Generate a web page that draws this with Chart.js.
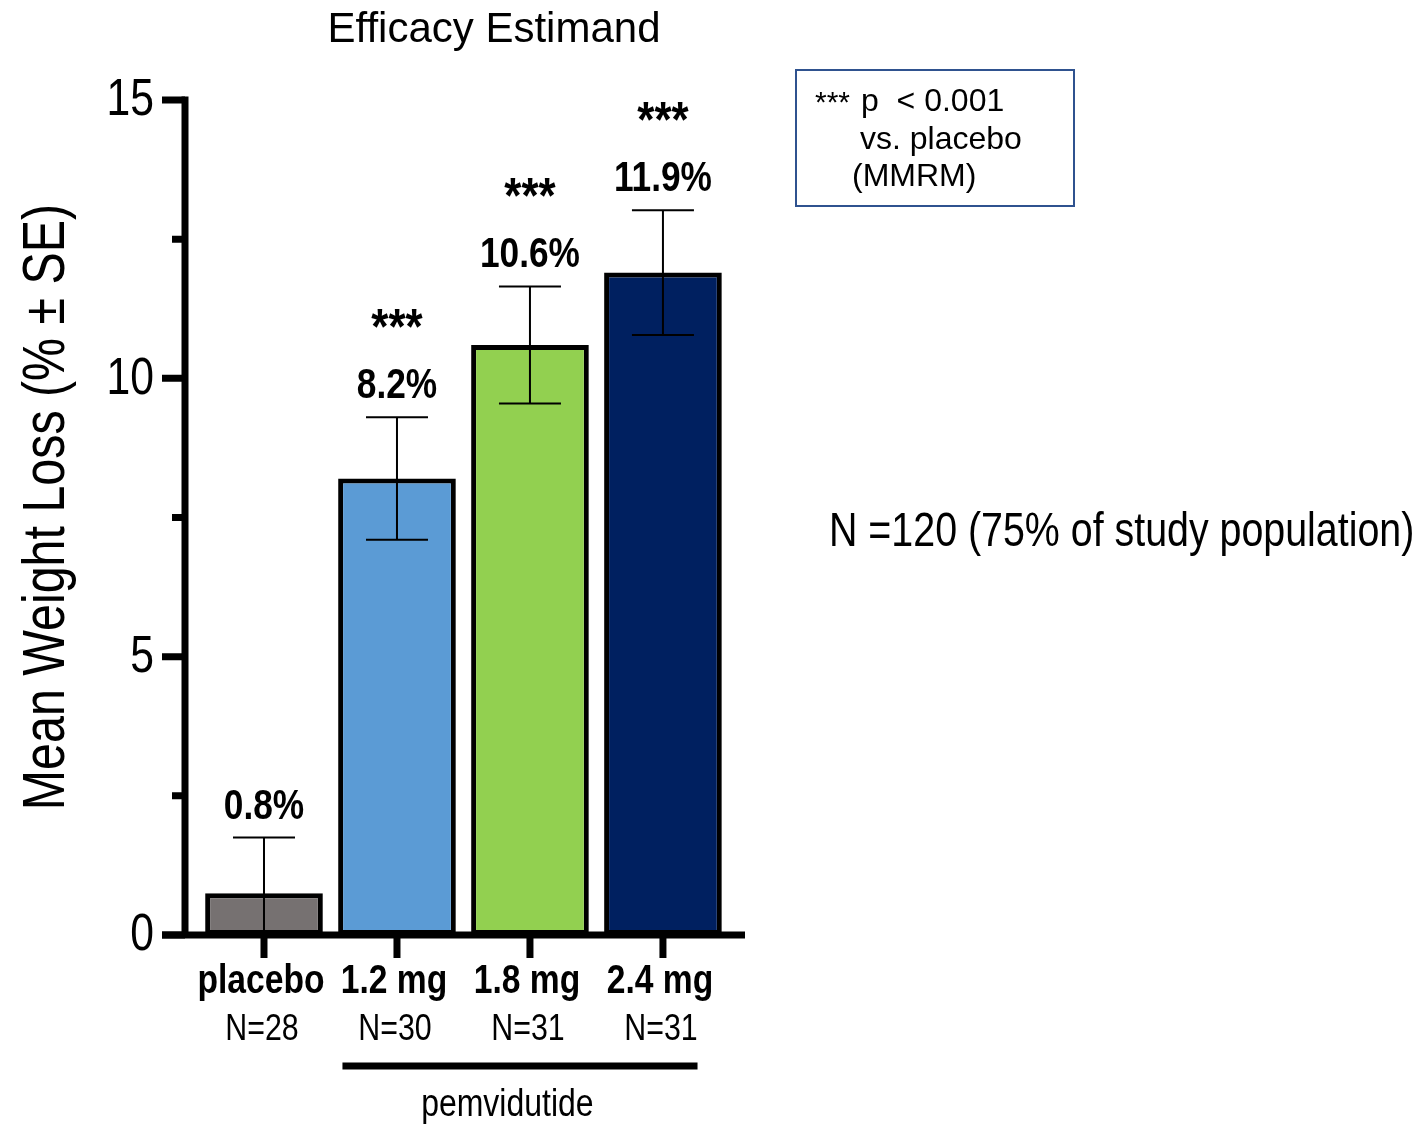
<!DOCTYPE html>
<html>
<head>
<meta charset="utf-8">
<script src="https://cdn.jsdelivr.net/npm/chart.js@4.4.0/dist/chart.umd.min.js"></script>
<style>
  html, body { margin: 0; padding: 0; background: #fff; }
  #wrap { position: relative; width: 1419px; height: 1124px; }
</style>
</head>
<body>
<div id="wrap"><canvas id="weightChart"></canvas></div>
<script>
const doses = ["placebo", "1.2 mg", "1.8 mg", "2.4 mg"];
const groupSizes = ["N=28", "N=30", "N=31", "N=31"];
const meanLoss = [0.75, 8.2, 10.6, 11.9];
const stdErr = [1.0, 1.1, 1.05, 1.12];
const valueLabels = ["0.8%", "8.2%", "10.6%", "11.9%"];
const stars = ["", "***", "***", "***"];
const barColors = ["#767171", "#5b9bd5", "#92d050", "#002060"];
const yTicks = [0, 5, 10, 15];
const yMinorTicks = [2.5, 7.5, 12.5];

const ARIAL = "'Liberation Sans', Arial, sans-serif";
const NARROW = 0.82; // no narrow face installed, so squeeze Liberation Sans

// draw text squeezed horizontally (Arial Narrow look)
function narrowText(ctx, text, x, y, font, align, sx) {
  ctx.save();
  ctx.font = font;
  ctx.textAlign = align || "center";
  ctx.translate(x, y);
  ctx.scale(sx || NARROW, 1);
  ctx.fillText(text, 0, 0);
  ctx.restore();
}

// error bars + value labels on top of the bars
const errorBars = {
  id: "errorBars",
  afterDatasetsDraw(chart) {
    const { ctx, scales: { y } } = chart;
    const meta = chart.getDatasetMeta(0);
    ctx.save();
    ctx.fillStyle = "#000";
    ctx.textBaseline = "alphabetic";
    meta.data.forEach((bar, i) => {
      const cx = bar.x;
      const top = y.getPixelForValue(meanLoss[i] + stdErr[i]);
      const lowVal = meanLoss[i] - stdErr[i];
      const low = y.getPixelForValue(Math.max(0, lowVal));
      ctx.strokeStyle = "#000";
      ctx.lineWidth = 2;
      ctx.beginPath();
      ctx.moveTo(cx, top);
      ctx.lineTo(cx, low);
      ctx.moveTo(cx - 31, top);
      ctx.lineTo(cx + 31, top);
      if (lowVal > 0) {
        ctx.moveTo(cx - 31, low);
        ctx.lineTo(cx + 31, low);
      }
      ctx.stroke();

      narrowText(ctx, valueLabels[i], cx, top - 19, "bold 43px " + ARIAL);
      if (stars[i]) {
        narrowText(ctx, stars[i], cx, top - 73, "bold 50px " + ARIAL, "center", 0.88);
      }
    });
    ctx.restore();
  }
};

// axis lines, tick marks, labels and annotations
const decorations = {
  id: "decorations",
  afterDraw(chart) {
    const { ctx, chartArea: area, scales: { x, y } } = chart;
    ctx.save();
    ctx.strokeStyle = "#000";
    ctx.fillStyle = "#000";
    ctx.lineWidth = 7;
    ctx.lineCap = "butt";

    // axes
    ctx.beginPath();
    ctx.moveTo(area.left, area.top - 3.5);
    ctx.lineTo(area.left, area.bottom + 3.5);
    ctx.moveTo(area.left - 23, area.bottom);
    ctx.lineTo(area.right, area.bottom);
    ctx.stroke();

    // y ticks
    ctx.beginPath();
    yTicks.forEach(v => {
      const py = y.getPixelForValue(v);
      ctx.moveTo(area.left - 23, py);
      ctx.lineTo(area.left, py);
    });
    yMinorTicks.forEach(v => {
      const py = y.getPixelForValue(v);
      ctx.moveTo(area.left - 13, py);
      ctx.lineTo(area.left, py);
    });
    // x ticks
    doses.forEach((d, i) => {
      const px = x.getPixelForValue(i);
      ctx.moveTo(px, area.bottom);
      ctx.lineTo(px, area.bottom + 23);
    });
    ctx.stroke();

    // y tick labels
    ctx.textBaseline = "middle";
    yTicks.forEach(v => {
      narrowText(ctx, String(v), 154, y.getPixelForValue(v) + 1, "52px " + ARIAL, "right");
    });

    // y title
    ctx.textBaseline = "alphabetic";
    ctx.save();
    ctx.translate(64, 507);
    ctx.rotate(-Math.PI / 2);
    narrowText(ctx, "Mean Weight Loss (% \u00b1 SE)", 0, 0, "59px " + ARIAL);
    ctx.restore();

    // dose and N= labels
    doses.forEach((d, i) => {
      const px = x.getPixelForValue(i);
      narrowText(ctx, d, px - 3, 993, "bold 41px " + ARIAL);
      narrowText(ctx, groupSizes[i], px - 2, 1040, "37px " + ARIAL);
    });

    // pemvidutide bracket
    ctx.beginPath();
    ctx.moveTo(x.getPixelForValue(0.59), 1066);
    ctx.lineTo(x.getPixelForValue(3.26), 1066);
    ctx.stroke();
    narrowText(ctx, "pemvidutide", x.getPixelForValue(1.83), 1116, "39px " + ARIAL);

    // title
    ctx.textAlign = "center";
    ctx.font = "42px " + ARIAL;
    ctx.fillText("Efficacy Estimand", 494, 42);

    // population note
    narrowText(ctx, "N =120 (75% of study population)", 829, 546, "48px " + ARIAL, "left");

    // significance box
    ctx.strokeStyle = "#2f528f";
    ctx.lineWidth = 2;
    ctx.strokeRect(796, 70, 278, 136);
    ctx.textAlign = "left";
    ctx.font = "30px " + ARIAL;
    ctx.fillText("***", 815, 112);
    ctx.font = "32px " + ARIAL;
    ctx.fillText("p  < 0.001", 861, 111);
    ctx.fillText("vs. placebo", 860, 149);
    ctx.fillText("(MMRM)", 852, 186);
    ctx.restore();
  }
};

new Chart(document.getElementById("weightChart"), {
  type: "bar",
  data: {
    datasets: [{
      data: doses.map((d, i) => ({ x: i, y: meanLoss[i] })),
      backgroundColor: barColors,
      borderColor: "#000",
      borderWidth: 5,
      borderSkipped: false,
      barPercentage: 0.885,
      categoryPercentage: 1
    }]
  },
  options: {
    responsive: true,
    maintainAspectRatio: false,
    animation: false,
    layout: { padding: { left: 0, right: 674, top: 100, bottom: 0 } },
    plugins: {
      legend: { display: false },
      tooltip: { enabled: false },
      title: { display: false }
    },
    scales: {
      x: {
        type: "linear",
        offset: false,
        min: -0.594,
        max: 3.617,
        afterBuildTicks: s => { s.ticks = doses.map((d, i) => ({ value: i })); },
        afterFit: s => { s.height = 189; },
        grid: { display: false, drawTicks: false },
        border: { display: false },
        ticks: { display: false }
      },
      y: {
        min: 0,
        max: 15,
        afterBuildTicks: s => { s.ticks = yTicks.map(v => ({ value: v })); },
        afterFit: s => { s.width = 185; },
        grid: { display: false, drawTicks: false },
        border: { display: false },
        ticks: { display: false }
      }
    }
  },
  plugins: [errorBars, decorations]
});
</script>
</body>
</html>
